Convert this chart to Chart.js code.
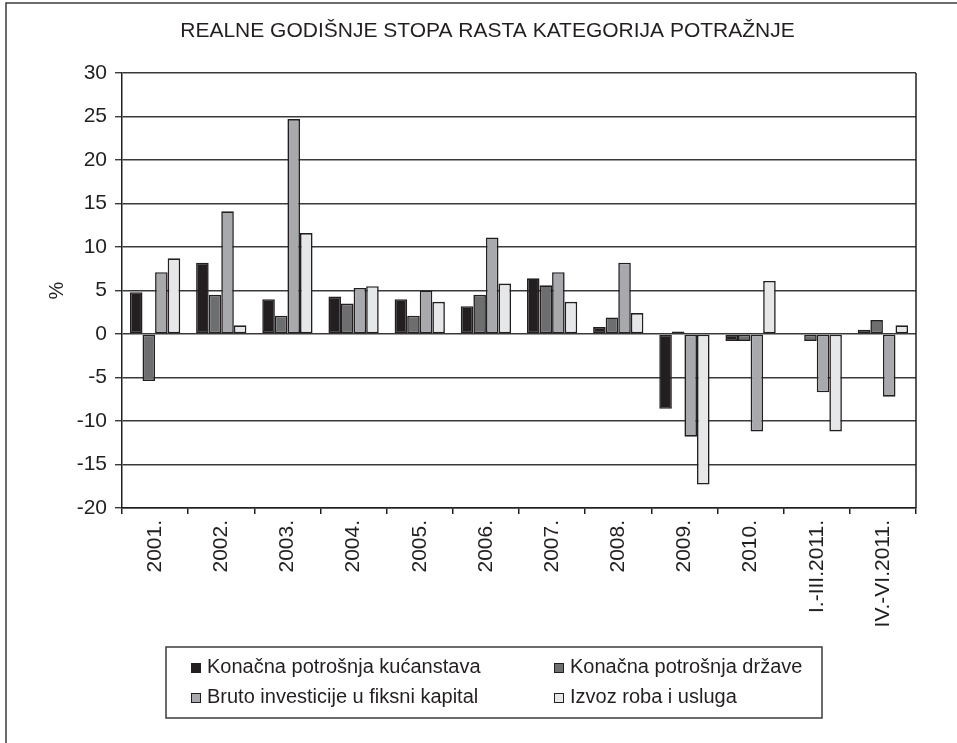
<!DOCTYPE html>
<html>
<head>
<meta charset="utf-8">
<script src="https://cdn.jsdelivr.net/npm/chart.js@4/dist/chart.umd.min.js"></script>
<style>
html,body{margin:0;padding:0;background:#fff;overflow:hidden;}
canvas{display:block;}
</style>
</head>
<body>
<canvas id="c" width="957" height="743"></canvas>
<script>
const chartTitle = 'REALNE GODIŠNJE STOPA RASTA KATEGORIJA POTRAŽNJE';
const categories = ['2001.','2002.','2003.','2004.','2005.','2006.','2007.','2008.','2009.','2010.','I.-III.2011.','IV.-VI.2011.'];
const seriesNames = ['Konačna potrošnja kućanstava','Konačna potrošnja države','Bruto investicije u fiksni kapital','Izvoz roba i usluga'];
const kucanstva   = [4.8, 8.2, 4.0, 4.3, 4.0, 3.2, 6.4, 0.8, -8.6, -0.8, 0, 0.5];
const drzava      = [-5.4, 4.5, 2.1, 3.5, 2.1, 4.5, 5.6, 1.9, 0.3, -0.8, -0.8, 1.6];
const investicije = [7.1, 14.1, 24.7, 5.3, 5.0, 11.1, 7.1, 8.2, -11.8, -11.2, -6.7, -7.2];
const izvoz       = [8.7, 1.0, 11.6, 5.5, 3.7, 5.8, 3.7, 2.4, -17.3, 6.1, -11.2, 1.0];
const yMin = -20, yMax = 30, yStep = 5;
const yTitle = '%';

const colors = ['#231f20', '#6d6e70', '#a7a9ac', '#e6e7e8'];
const seriesValues = [kucanstva, drzava, investicije, izvoz];
const FONT = "'Liberation Sans', Arial, sans-serif";
const ink = '#231f20';

const framePlugin = {
  id: 'frame',
  beforeDraw(chart) {
    const ctx = chart.ctx;
    ctx.save();
    ctx.fillStyle = '#fff';
    ctx.fillRect(0, 0, chart.width, chart.height);
    ctx.strokeStyle = '#3c3c3c';
    ctx.lineWidth = 1.5;
    ctx.beginPath();
    ctx.moveTo(6, chart.height + 2);
    ctx.lineTo(6, 3);
    ctx.lineTo(chart.width + 2, 3);
    ctx.stroke();
    ctx.restore();
  },
  afterDraw(chart) {
    const ctx = chart.ctx;
    const a = chart.chartArea;
    ctx.save();
    // chart title
    ctx.font = '21px ' + FONT;
    ctx.fillStyle = ink;
    ctx.textAlign = 'center';
    ctx.textBaseline = 'middle';
    ctx.fillText(chartTitle, 487.5, 31);
    // right edge of plot area
    ctx.strokeStyle = ink;
    ctx.lineWidth = 1.5;
    ctx.beginPath();
    ctx.moveTo(a.right, a.top);
    ctx.lineTo(a.right, a.bottom);
    ctx.stroke();
    // legend box
    const bx = 166, by = 647, bw = 656, bh = 71;
    ctx.strokeStyle = '#3c3c3c';
    ctx.lineWidth = 1.5;
    ctx.strokeRect(bx, by, bw, bh);
    const colX = [191, 554];
    const rowBase = [673, 703];
    ctx.font = '20px ' + FONT;
    ctx.textBaseline = 'alphabetic';
    ctx.textAlign = 'left';
    chart.data.datasets.forEach((ds, i) => {
      const x = colX[i % 2], y = rowBase[Math.floor(i / 2)];
      ctx.fillStyle = ds.backgroundColor;
      ctx.fillRect(x, y - 10, 10, 10);
      ctx.strokeStyle = ink;
      ctx.lineWidth = 1;
      ctx.strokeRect(x + 0.5, y - 9.5, 9, 9);
      ctx.fillStyle = ink;
      ctx.fillText(ds.label, x + 16, y);
    });
    ctx.restore();
  }
};

new Chart(document.getElementById('c'), {
  type: 'bar',
  data: {
    labels: categories,
    datasets: seriesNames.map((name, i) => ({
      label: name,
      data: seriesValues[i],
      backgroundColor: colors[i],
      borderColor: ink,
      borderWidth: 1.6,
      borderSkipped: false,
      categoryPercentage: 0.76,
      barPercentage: 1.0
    }))
  },
  options: {
    responsive: false,
    animation: false,
    devicePixelRatio: 1,
    layout: { padding: { left: 0, right: 41, top: 73, bottom: 0 } },
    plugins: {
      legend: { display: false },
      tooltip: { enabled: false },
      title: { display: false }
    },
    scales: {
      x: {
        offset: true,
        grid: { display: true, drawOnChartArea: false, drawTicks: true, tickLength: 6, color: ink, lineWidth: 1.5, offset: true },
        border: { display: true, color: ink, width: 1.5 },
        ticks: { color: ink, minRotation: 90, maxRotation: 90, autoSkip: false, padding: 6, font: { family: FONT, size: 21 } },
        afterFit(scale) { scale.height = 235; }
      },
      y: {
        min: yMin, max: yMax,
        ticks: { stepSize: yStep, color: ink, padding: 8, font: { family: FONT, size: 21 } },
        grid: { color: '#3a3a3a', lineWidth: 1.4, drawTicks: true, tickLength: 7 },
        border: { display: true, color: ink, width: 1.5 },
        title: { display: true, text: yTitle, color: ink, font: { family: FONT, size: 20 }, padding: { top: 45, bottom: 0 } },
        afterFit(scale) { scale.width = 122; }
      }
    }
  },
  plugins: [framePlugin]
});
</script>
</body>
</html>
